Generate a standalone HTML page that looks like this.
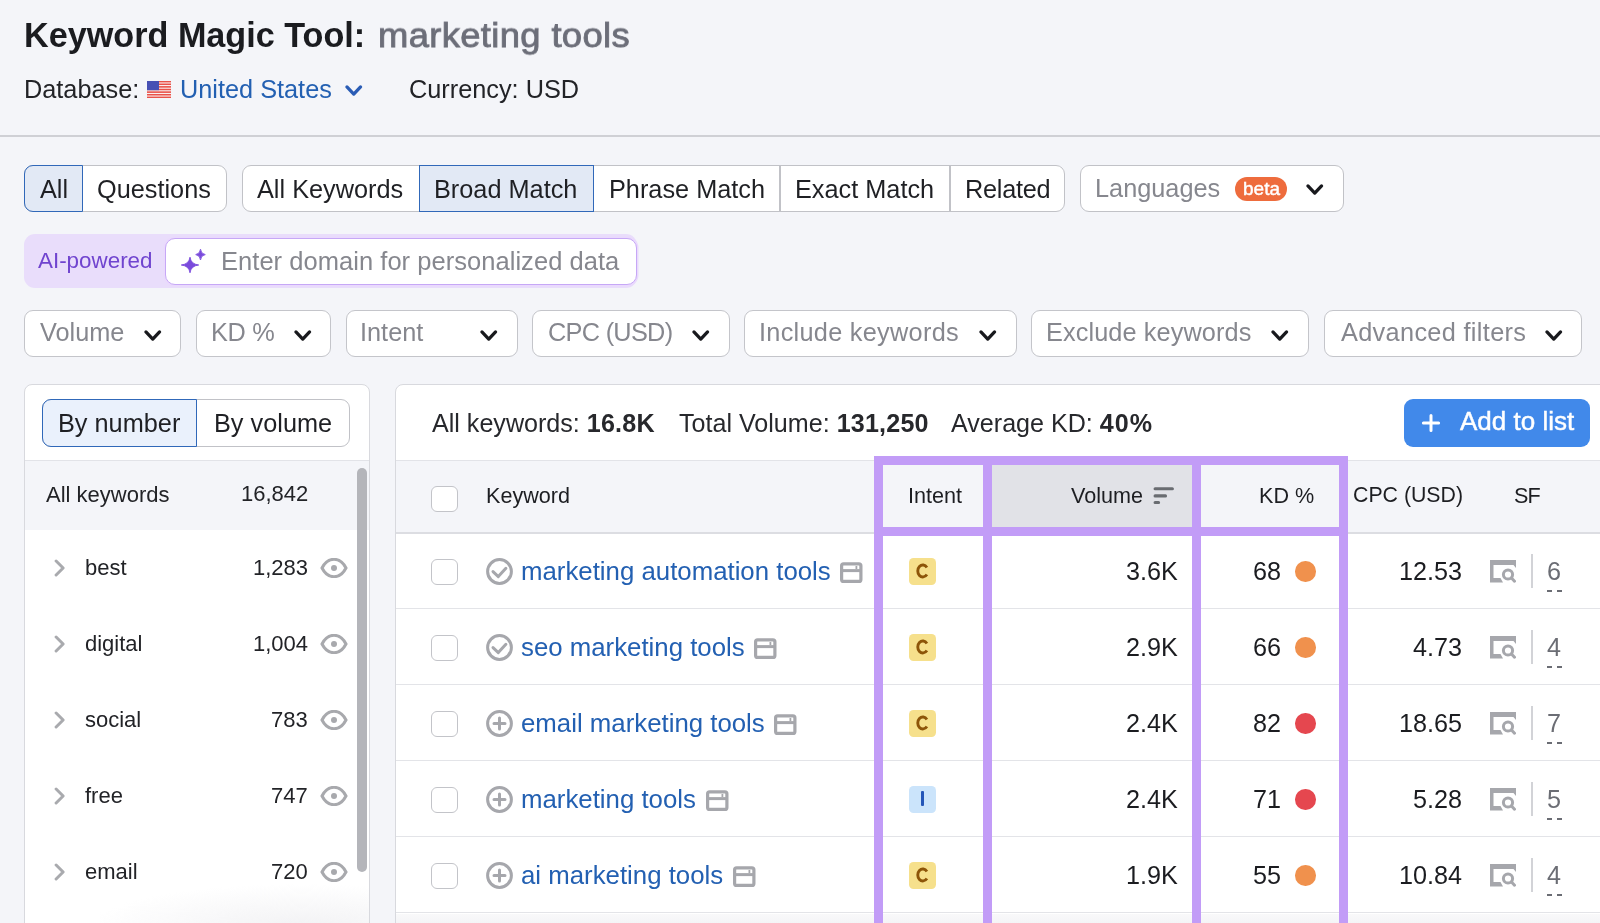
<!DOCTYPE html>
<html><head><meta charset="utf-8">
<style>
*{box-sizing:border-box;margin:0;padding:0}
html,body{width:1600px;height:923px;overflow:hidden}
body{background:#f4f5f9;font-family:"Liberation Sans",sans-serif;color:#222327;position:relative}
.a{position:absolute}
.t{position:absolute;white-space:nowrap;line-height:1;will-change:transform}
</style></head><body>
<div class="t" style="left:23.8px;top:18.00px;font-size:34.2px;color:#1b1c20;font-weight:700;transform:scaleY(1.045);transform-origin:0 28.90px">Keyword Magic Tool:</div>
<div class="t" style="left:378.2px;top:16.74px;font-size:36.4px;color:#6c6e79;-webkit-text-stroke:0.9px #6c6e79;letter-spacing:0.35px;transform:scaleY(0.925);transform-origin:0 30.76px">marketing tools</div>
<div class="t" style="left:24.2px;top:76.62px;font-size:25.3px;color:#222327;">Database:</div>
<svg class="a" style="left:147px;top:81px" width="24" height="17" viewBox="0 0 24 17">
 <rect width="24" height="17" rx="1" fill="#fbfbfc"/>
 <g fill="#e9524a"><rect y="-0.15" width="24" height="1.61"/><rect y="2.47" width="24" height="1.61"/><rect y="5.08" width="24" height="1.61"/><rect y="7.70" width="24" height="1.61"/><rect y="10.31" width="24" height="1.61"/><rect y="12.93" width="24" height="1.61"/><rect y="15.54" width="24" height="1.61"/></g>
 <rect width="12" height="9.2" fill="#4750b4"/></svg>
<div class="t" style="left:179.6px;top:76.62px;font-size:25.3px;color:#2360b2;">United States</div>
<svg class="a" style="left:345.2px;top:84.6px;overflow:visible" width="17.5" height="11" viewBox="0 0 17.5 11"><path d="M1.95 1.95L8.75 9.049999999999999L15.549999999999999 1.95" fill="none" stroke="#2a5cb5" stroke-width="3.3" stroke-linecap="round" stroke-linejoin="round"/></svg>
<div class="t" style="left:408.8px;top:76.62px;font-size:25.3px;color:#222327;">Currency: USD</div>
<div class="a" style="left:0px;top:135px;width:1600px;height:2px;background:#cfd0d5"></div>
<div class="a" style="left:24px;top:165px;width:202.5px;height:47px;background:#fff;border:1.6px solid #c1c2c7;border-radius:9px"></div>
<div class="a" style="left:24px;top:165px;width:59px;height:47px;background:#e2e9f5;border:1.7px solid #3068b9;border-radius:9px 0 0 9px"></div>
<div class="a" style="left:242px;top:165px;width:823px;height:47px;background:#fff;border:1.6px solid #c1c2c7;border-radius:9px"></div>
<div class="a" style="left:418.5px;top:165px;width:175.5px;height:47px;background:#e2e9f5;border:1.7px solid #3068b9;border-radius:0"></div>
<div class="a" style="left:779.25px;top:166px;width:1.5px;height:45px;background:#c1c2c7"></div>
<div class="a" style="left:949.25px;top:166px;width:1.5px;height:45px;background:#c1c2c7"></div>
<div class="t" style="left:40.3px;top:176.62px;font-size:25.3px;color:#1f2024;">All</div>
<div class="t" style="left:97.4px;top:176.62px;font-size:25.3px;color:#1f2024;">Questions</div>
<div class="t" style="left:257.4px;top:176.62px;font-size:25.3px;color:#1f2024;">All Keywords</div>
<div class="t" style="left:434.4px;top:176.62px;font-size:25.3px;color:#1f2024;">Broad Match</div>
<div class="t" style="left:608.7px;top:176.62px;font-size:25.3px;color:#1f2024;">Phrase Match</div>
<div class="t" style="left:794.9px;top:176.62px;font-size:25.3px;color:#1f2024;">Exact Match</div>
<div class="t" style="left:965.0px;top:176.62px;font-size:25.3px;color:#1f2024;letter-spacing:-0.25px">Related</div>
<div class="a" style="left:1080px;top:165px;width:264px;height:47px;background:#fff;border:1.6px solid #c1c2c7;border-radius:9px"></div>
<div class="t" style="left:1095.4px;top:176.32px;font-size:25.3px;color:#86878e;">Languages</div>
<div class="a" style="left:1235px;top:177px;width:52px;height:23.5px;background:#ee6c3d;border-radius:12px"></div>
<div class="t" style="left:1242.6px;top:178.94px;font-size:19px;color:#fff;-webkit-text-stroke:0.45px #fff">beta</div>
<svg class="a" style="left:1306.2px;top:183.8px;overflow:visible" width="17.5" height="11" viewBox="0 0 17.5 11"><path d="M1.95 1.95L8.75 9.049999999999999L15.549999999999999 1.95" fill="none" stroke="#18191d" stroke-width="3.3" stroke-linecap="round" stroke-linejoin="round"/></svg>
<div class="a" style="left:24px;top:234px;width:613px;height:54px;background:#e9ddfb;border-radius:11px"></div>
<div class="t" style="left:38.4px;top:250.37px;font-size:22.4px;color:#7044cf;">AI-powered</div>
<div class="a" style="left:165px;top:237.5px;width:471.5px;height:47px;background:#fff;border:1.5px solid #c6a8f6;border-radius:10px;box-shadow:0 0 0 1.5px #ead9fd"></div>
<svg class="a" style="left:181px;top:248px" width="26" height="26" viewBox="0 0 26 26">
 <path d="M9 9.2 Q9.9 16.1 17.7 17 Q9.9 17.9 9 24.8 Q8.1 17.9 0.3 17 Q8.1 16.1 9 9.2Z" fill="#7a4bdc" stroke="#7a4bdc" stroke-width="0.9" stroke-linejoin="round"/>
 <path d="M19.5 1.2 Q20 5.8 24.3 6.6 Q20 7.4 19.5 12 Q19 7.4 14.7 6.6 Q19 5.8 19.5 1.2Z" fill="#7a4bdc" stroke="#7a4bdc" stroke-width="0.8" stroke-linejoin="round"/></svg>
<div class="t" style="left:221.4px;top:248.85px;font-size:25.5px;color:#86878e;letter-spacing:0.04px">Enter domain for personalized data</div>
<div class="a" style="left:24px;top:310px;width:157px;height:46.8px;background:#fff;border:1.6px solid #c4c5ca;border-radius:9px"></div>
<div class="t" style="left:40.2px;top:320.02px;font-size:25.3px;color:#86878e;letter-spacing:0px">Volume</div>
<svg class="a" style="left:143.6px;top:329.5px;overflow:visible" width="17.5" height="11" viewBox="0 0 17.5 11"><path d="M1.95 1.95L8.75 9.049999999999999L15.549999999999999 1.95" fill="none" stroke="#18191d" stroke-width="3.3" stroke-linecap="round" stroke-linejoin="round"/></svg>
<div class="a" style="left:196px;top:310px;width:135px;height:46.8px;background:#fff;border:1.6px solid #c4c5ca;border-radius:9px"></div>
<div class="t" style="left:210.6px;top:320.02px;font-size:25.3px;color:#86878e;letter-spacing:-0.3px">KD %</div>
<svg class="a" style="left:293.8px;top:329.5px;overflow:visible" width="17.5" height="11" viewBox="0 0 17.5 11"><path d="M1.95 1.95L8.75 9.049999999999999L15.549999999999999 1.95" fill="none" stroke="#18191d" stroke-width="3.3" stroke-linecap="round" stroke-linejoin="round"/></svg>
<div class="a" style="left:346px;top:310px;width:172px;height:46.8px;background:#fff;border:1.6px solid #c4c5ca;border-radius:9px"></div>
<div class="t" style="left:360.3px;top:320.02px;font-size:25.3px;color:#86878e;letter-spacing:0px">Intent</div>
<svg class="a" style="left:480.3px;top:329.5px;overflow:visible" width="17.5" height="11" viewBox="0 0 17.5 11"><path d="M1.95 1.95L8.75 9.049999999999999L15.549999999999999 1.95" fill="none" stroke="#18191d" stroke-width="3.3" stroke-linecap="round" stroke-linejoin="round"/></svg>
<div class="a" style="left:532px;top:310px;width:198px;height:46.8px;background:#fff;border:1.6px solid #c4c5ca;border-radius:9px"></div>
<div class="t" style="left:547.5px;top:320.02px;font-size:25.3px;color:#86878e;letter-spacing:-0.7px">CPC (USD)</div>
<svg class="a" style="left:692.4px;top:329.5px;overflow:visible" width="17.5" height="11" viewBox="0 0 17.5 11"><path d="M1.95 1.95L8.75 9.049999999999999L15.549999999999999 1.95" fill="none" stroke="#18191d" stroke-width="3.3" stroke-linecap="round" stroke-linejoin="round"/></svg>
<div class="a" style="left:744px;top:310px;width:273px;height:46.8px;background:#fff;border:1.6px solid #c4c5ca;border-radius:9px"></div>
<div class="t" style="left:759.3px;top:320.02px;font-size:25.3px;color:#86878e;letter-spacing:0.28px">Include keywords</div>
<svg class="a" style="left:979.3px;top:329.5px;overflow:visible" width="17.5" height="11" viewBox="0 0 17.5 11"><path d="M1.95 1.95L8.75 9.049999999999999L15.549999999999999 1.95" fill="none" stroke="#18191d" stroke-width="3.3" stroke-linecap="round" stroke-linejoin="round"/></svg>
<div class="a" style="left:1031px;top:310px;width:278px;height:46.8px;background:#fff;border:1.6px solid #c4c5ca;border-radius:9px"></div>
<div class="t" style="left:1046.1px;top:320.02px;font-size:25.3px;color:#86878e;letter-spacing:0.1px">Exclude keywords</div>
<svg class="a" style="left:1271.4px;top:329.5px;overflow:visible" width="17.5" height="11" viewBox="0 0 17.5 11"><path d="M1.95 1.95L8.75 9.049999999999999L15.549999999999999 1.95" fill="none" stroke="#18191d" stroke-width="3.3" stroke-linecap="round" stroke-linejoin="round"/></svg>
<div class="a" style="left:1324px;top:310px;width:258px;height:46.8px;background:#fff;border:1.6px solid #c4c5ca;border-radius:9px"></div>
<div class="t" style="left:1340.6px;top:320.02px;font-size:25.3px;color:#86878e;letter-spacing:0.33px">Advanced filters</div>
<svg class="a" style="left:1544.7px;top:329.5px;overflow:visible" width="17.5" height="11" viewBox="0 0 17.5 11"><path d="M1.95 1.95L8.75 9.049999999999999L15.549999999999999 1.95" fill="none" stroke="#18191d" stroke-width="3.3" stroke-linecap="round" stroke-linejoin="round"/></svg>
<div class="a" style="left:23.6px;top:384px;width:346.4px;height:600px;background:#fff;border:1px solid #d8d9de;border-radius:8px"></div>
<div class="a" style="left:42px;top:399px;width:308px;height:47.80000000000001px;background:#fff;border:1.6px solid #c1c2c7;border-radius:9px"></div>
<div class="a" style="left:42px;top:399px;width:155px;height:47.80000000000001px;background:#eaf1fc;border:1.7px solid #3068b9;border-radius:9px 0 0 9px"></div>
<div class="t" style="left:57.6px;top:410.62px;font-size:25.3px;color:#1f2024;">By number</div>
<div class="t" style="left:213.6px;top:410.62px;font-size:25.3px;color:#1f2024;">By volume</div>
<div class="a" style="left:25px;top:460px;width:344px;height:1.2px;background:#e2e3e8"></div>
<div class="a" style="left:25px;top:461px;width:344px;height:69px;background:#f4f5f9"></div>
<div class="t" style="left:46.2px;top:484.01px;font-size:22.0px;color:#222327;">All keywords</div>
<div class="t" style="right:1292.0px;top:483.41px;font-size:22.0px;color:#222327;text-align:right;">16,842</div>
<div class="a" style="left:357px;top:468px;width:10px;height:404px;background:#b4b5ba;border-radius:5px"></div>
<svg class="a" style="left:53px;top:558.6px" width="13" height="18" viewBox="0 0 13 18"><path d="M3.1 2.0l7 7-7 7" fill="none" stroke="#a9aaae" stroke-width="3" stroke-linecap="round" stroke-linejoin="round"/></svg>
<div class="t" style="left:84.8px;top:556.81px;font-size:22.0px;color:#222327;">best</div>
<div class="t" style="right:1292.0px;top:556.81px;font-size:22.0px;color:#222327;text-align:right;">1,283</div>
<svg class="a" style="left:320px;top:557.6px" width="28" height="20" viewBox="0 0 28 20"><path d="M2 10C5 4.1 9 1.3 14 1.3s9 2.8 12 8.7c-3 5.9-7 8.7-12 8.7S5 15.9 2 10Z" fill="none" stroke="#a8a9ad" stroke-width="3"/><circle cx="14" cy="10" r="3" fill="#a8a9ad"/></svg>
<svg class="a" style="left:53px;top:634.6px" width="13" height="18" viewBox="0 0 13 18"><path d="M3.1 2.0l7 7-7 7" fill="none" stroke="#a9aaae" stroke-width="3" stroke-linecap="round" stroke-linejoin="round"/></svg>
<div class="t" style="left:84.8px;top:632.81px;font-size:22.0px;color:#222327;">digital</div>
<div class="t" style="right:1292.0px;top:632.81px;font-size:22.0px;color:#222327;text-align:right;">1,004</div>
<svg class="a" style="left:320px;top:633.6px" width="28" height="20" viewBox="0 0 28 20"><path d="M2 10C5 4.1 9 1.3 14 1.3s9 2.8 12 8.7c-3 5.9-7 8.7-12 8.7S5 15.9 2 10Z" fill="none" stroke="#a8a9ad" stroke-width="3"/><circle cx="14" cy="10" r="3" fill="#a8a9ad"/></svg>
<svg class="a" style="left:53px;top:710.6px" width="13" height="18" viewBox="0 0 13 18"><path d="M3.1 2.0l7 7-7 7" fill="none" stroke="#a9aaae" stroke-width="3" stroke-linecap="round" stroke-linejoin="round"/></svg>
<div class="t" style="left:84.8px;top:708.81px;font-size:22.0px;color:#222327;">social</div>
<div class="t" style="right:1292.0px;top:708.81px;font-size:22.0px;color:#222327;text-align:right;">783</div>
<svg class="a" style="left:320px;top:709.6px" width="28" height="20" viewBox="0 0 28 20"><path d="M2 10C5 4.1 9 1.3 14 1.3s9 2.8 12 8.7c-3 5.9-7 8.7-12 8.7S5 15.9 2 10Z" fill="none" stroke="#a8a9ad" stroke-width="3"/><circle cx="14" cy="10" r="3" fill="#a8a9ad"/></svg>
<svg class="a" style="left:53px;top:786.6px" width="13" height="18" viewBox="0 0 13 18"><path d="M3.1 2.0l7 7-7 7" fill="none" stroke="#a9aaae" stroke-width="3" stroke-linecap="round" stroke-linejoin="round"/></svg>
<div class="t" style="left:84.8px;top:784.81px;font-size:22.0px;color:#222327;">free</div>
<div class="t" style="right:1292.0px;top:784.81px;font-size:22.0px;color:#222327;text-align:right;">747</div>
<svg class="a" style="left:320px;top:785.6px" width="28" height="20" viewBox="0 0 28 20"><path d="M2 10C5 4.1 9 1.3 14 1.3s9 2.8 12 8.7c-3 5.9-7 8.7-12 8.7S5 15.9 2 10Z" fill="none" stroke="#a8a9ad" stroke-width="3"/><circle cx="14" cy="10" r="3" fill="#a8a9ad"/></svg>
<svg class="a" style="left:53px;top:862.6px" width="13" height="18" viewBox="0 0 13 18"><path d="M3.1 2.0l7 7-7 7" fill="none" stroke="#a9aaae" stroke-width="3" stroke-linecap="round" stroke-linejoin="round"/></svg>
<div class="t" style="left:84.8px;top:860.81px;font-size:22.0px;color:#222327;">email</div>
<div class="t" style="right:1292.0px;top:860.81px;font-size:22.0px;color:#222327;text-align:right;">720</div>
<svg class="a" style="left:320px;top:861.6px" width="28" height="20" viewBox="0 0 28 20"><path d="M2 10C5 4.1 9 1.3 14 1.3s9 2.8 12 8.7c-3 5.9-7 8.7-12 8.7S5 15.9 2 10Z" fill="none" stroke="#a8a9ad" stroke-width="3"/><circle cx="14" cy="10" r="3" fill="#a8a9ad"/></svg>
<div class="a" style="left:395px;top:384px;width:1240px;height:600px;background:#fff;border:1px solid #d8d9de;border-radius:8px"></div>
<div class="t" style="left:432.3px;top:411.19px;font-size:25.1px;color:#27282c;">All keywords: <b style="letter-spacing:0.2px">16.8K</b></div>
<div class="t" style="left:678.5px;top:411.19px;font-size:25.1px;color:#27282c;">Total Volume: <b style="letter-spacing:0.2px">131,250</b></div>
<div class="t" style="left:950.8px;top:411.19px;font-size:25.1px;color:#27282c;">Average KD: <b style="letter-spacing:1px">40%</b></div>
<div class="a" style="left:1404px;top:399px;width:186px;height:48px;background:#4189ea;border-radius:9px"></div>
<svg class="a" style="left:1421.3px;top:413px" width="20" height="20" viewBox="0 0 20 20"><path d="M10 2.4v15.2M2.4 10h15.2" stroke="#fff" stroke-width="3" stroke-linecap="round"/></svg>
<div class="t" style="left:1459.6px;top:408.43px;font-size:26px;color:#fff;-webkit-text-stroke:0.45px #fff">Add to list</div>
<div class="a" style="left:396px;top:460px;width:1204px;height:1.2px;background:#e2e3e8"></div>
<div class="a" style="left:396px;top:461px;width:1204px;height:71px;background:#f4f5f9"></div>
<div class="a" style="left:992px;top:461px;width:200px;height:71px;background:#e1e2e7"></div>
<div class="a" style="left:396px;top:532.4px;width:1204px;height:1.4px;background:#dcdde2"></div>
<div class="a" style="left:431.4px;top:485.7px;width:26.6px;height:26.6px;border:1.6px solid #c3c4c9;border-radius:6px;background:#fff"></div>
<div class="t" style="left:486.2px;top:485.15px;font-size:21.6px;color:#1d1e22;">Keyword</div>
<div class="t" style="left:908.4px;top:485.15px;font-size:21.6px;color:#1d1e22;">Intent</div>
<div class="t" style="left:1071.4px;top:485.15px;font-size:21.6px;color:#1d1e22;">Volume</div>
<svg class="a" style="left:1152px;top:486px" width="23" height="19" viewBox="0 0 23 19"><path d="M3.1 2.7h17.3M3.1 9.9h10.4M3.1 16.5h3.5" stroke="#696c71" stroke-width="3.1" stroke-linecap="round"/></svg>
<div class="t" style="right:286.0px;top:485.15px;font-size:21.6px;color:#1d1e22;text-align:right;">KD %</div>
<div class="t" style="left:1353.4px;top:485.40px;font-size:21.3px;color:#1d1e22;">CPC (USD)</div>
<div class="t" style="left:1513.6px;top:485.15px;font-size:21.6px;color:#1d1e22;letter-spacing:-0.9px">SF</div>
<div class="a" style="left:396px;top:608px;width:1204px;height:1.4px;background:#e3e4e8"></div>
<div class="a" style="left:431.4px;top:558.5px;width:26.6px;height:26.6px;border:1.6px solid #c3c4c9;border-radius:6px;background:#fff"></div>
<svg class="a" style="left:486px;top:558.0px" width="27" height="27" viewBox="0 0 27 27"><circle cx="13.5" cy="13.5" r="11.9" fill="none" stroke="#a6a7ac" stroke-width="3"/><path d="M7 13.6l5.3 5 7.6-8.3" fill="none" stroke="#a6a7ac" stroke-width="3" stroke-linecap="round" stroke-linejoin="round"/></svg>
<div class="t" style="left:520.6px;top:558.50px;font-size:25.8px;color:#2360b2;">marketing automation tools<svg style="margin-left:9.6px;vertical-align:-3px" width="23" height="21" viewBox="0 0 23 21"><rect x="1.6" y="1.8" width="19.3" height="17.6" rx="2" fill="none" stroke="#a6a7ac" stroke-width="3.2"/><path d="M2 8.6h18.5" stroke="#a6a7ac" stroke-width="3"/><path d="M16.4 4v3" stroke="#a6a7ac" stroke-width="1.8"/></svg></div>
<div class="a" style="left:909px;top:558.0px;width:27px;height:27px;border-radius:4.5px;background:#f6e08c;"><svg class="a" style="left:0;top:0" width="27" height="27" viewBox="0 0 27 27"><path d="M17.9 9.4A5.05 6 0 1 0 17.9 16.5" fill="none" stroke="#8d5508" stroke-width="2.9" stroke-linecap="butt"/></svg></div>
<div class="t" style="right:422.4px;top:559.01px;font-size:25.2px;color:#1b1c20;text-align:right;">3.6K</div>
<div class="t" style="right:319.4px;top:559.01px;font-size:25.2px;color:#1b1c20;text-align:right;">68</div>
<div class="a" style="left:1295px;top:561.3px;width:20.6px;height:20.6px;border-radius:50%;background:#f0914d"></div>
<div class="t" style="right:137.6px;top:559.01px;font-size:25.2px;color:#1b1c20;text-align:right;">12.53</div>
<svg class="a" style="left:1490px;top:559.9px" width="26" height="23" viewBox="0 0 26 23"><path d="M0 0h26v8l-2.5 -3h-20v13h7l2.5 4.5h-13z" fill="#a6a7ac"/><circle cx="18" cy="14.5" r="4.6" fill="none" stroke="#a6a7ac" stroke-width="3"/><path d="M21.5 18l3 3.2" stroke="#a6a7ac" stroke-width="3" stroke-linecap="round"/></svg>
<div class="a" style="left:1531.2px;top:554.2px;width:1.6px;height:34px;background:#d2d3d7"></div>
<div class="t" style="left:1547.0px;top:559.01px;font-size:25.2px;color:#6b6d74;">6</div>
<div class="a" style="left:1547.4px;top:590.1px;width:5px;height:1.7px;background:#6b6d74"></div>
<div class="a" style="left:1557.2px;top:590.1px;width:5px;height:1.7px;background:#6b6d74"></div>
<div class="a" style="left:396px;top:684px;width:1204px;height:1.4px;background:#e3e4e8"></div>
<div class="a" style="left:431.4px;top:634.5px;width:26.6px;height:26.6px;border:1.6px solid #c3c4c9;border-radius:6px;background:#fff"></div>
<svg class="a" style="left:486px;top:634.0px" width="27" height="27" viewBox="0 0 27 27"><circle cx="13.5" cy="13.5" r="11.9" fill="none" stroke="#a6a7ac" stroke-width="3"/><path d="M7 13.6l5.3 5 7.6-8.3" fill="none" stroke="#a6a7ac" stroke-width="3" stroke-linecap="round" stroke-linejoin="round"/></svg>
<div class="t" style="left:520.6px;top:634.50px;font-size:25.8px;color:#2360b2;">seo marketing tools<svg style="margin-left:9.6px;vertical-align:-3px" width="23" height="21" viewBox="0 0 23 21"><rect x="1.6" y="1.8" width="19.3" height="17.6" rx="2" fill="none" stroke="#a6a7ac" stroke-width="3.2"/><path d="M2 8.6h18.5" stroke="#a6a7ac" stroke-width="3"/><path d="M16.4 4v3" stroke="#a6a7ac" stroke-width="1.8"/></svg></div>
<div class="a" style="left:909px;top:634.0px;width:27px;height:27px;border-radius:4.5px;background:#f6e08c;"><svg class="a" style="left:0;top:0" width="27" height="27" viewBox="0 0 27 27"><path d="M17.9 9.4A5.05 6 0 1 0 17.9 16.5" fill="none" stroke="#8d5508" stroke-width="2.9" stroke-linecap="butt"/></svg></div>
<div class="t" style="right:422.4px;top:635.01px;font-size:25.2px;color:#1b1c20;text-align:right;">2.9K</div>
<div class="t" style="right:319.4px;top:635.01px;font-size:25.2px;color:#1b1c20;text-align:right;">66</div>
<div class="a" style="left:1295px;top:637.3px;width:20.6px;height:20.6px;border-radius:50%;background:#f0914d"></div>
<div class="t" style="right:137.6px;top:635.01px;font-size:25.2px;color:#1b1c20;text-align:right;">4.73</div>
<svg class="a" style="left:1490px;top:635.9px" width="26" height="23" viewBox="0 0 26 23"><path d="M0 0h26v8l-2.5 -3h-20v13h7l2.5 4.5h-13z" fill="#a6a7ac"/><circle cx="18" cy="14.5" r="4.6" fill="none" stroke="#a6a7ac" stroke-width="3"/><path d="M21.5 18l3 3.2" stroke="#a6a7ac" stroke-width="3" stroke-linecap="round"/></svg>
<div class="a" style="left:1531.2px;top:630.2px;width:1.6px;height:34px;background:#d2d3d7"></div>
<div class="t" style="left:1547.0px;top:635.01px;font-size:25.2px;color:#6b6d74;">4</div>
<div class="a" style="left:1547.4px;top:666.1px;width:5px;height:1.7px;background:#6b6d74"></div>
<div class="a" style="left:1557.2px;top:666.1px;width:5px;height:1.7px;background:#6b6d74"></div>
<div class="a" style="left:396px;top:760px;width:1204px;height:1.4px;background:#e3e4e8"></div>
<div class="a" style="left:431.4px;top:710.5px;width:26.6px;height:26.6px;border:1.6px solid #c3c4c9;border-radius:6px;background:#fff"></div>
<svg class="a" style="left:486px;top:710.0px" width="27" height="27" viewBox="0 0 27 27"><circle cx="13.5" cy="13.5" r="11.9" fill="none" stroke="#a6a7ac" stroke-width="3"/><path d="M13.5 8v11M8 13.5h11" stroke="#a6a7ac" stroke-width="3" stroke-linecap="round"/></svg>
<div class="t" style="left:520.6px;top:710.50px;font-size:25.8px;color:#2360b2;">email marketing tools<svg style="margin-left:9.6px;vertical-align:-3px" width="23" height="21" viewBox="0 0 23 21"><rect x="1.6" y="1.8" width="19.3" height="17.6" rx="2" fill="none" stroke="#a6a7ac" stroke-width="3.2"/><path d="M2 8.6h18.5" stroke="#a6a7ac" stroke-width="3"/><path d="M16.4 4v3" stroke="#a6a7ac" stroke-width="1.8"/></svg></div>
<div class="a" style="left:909px;top:710.0px;width:27px;height:27px;border-radius:4.5px;background:#f6e08c;"><svg class="a" style="left:0;top:0" width="27" height="27" viewBox="0 0 27 27"><path d="M17.9 9.4A5.05 6 0 1 0 17.9 16.5" fill="none" stroke="#8d5508" stroke-width="2.9" stroke-linecap="butt"/></svg></div>
<div class="t" style="right:422.4px;top:711.01px;font-size:25.2px;color:#1b1c20;text-align:right;">2.4K</div>
<div class="t" style="right:319.4px;top:711.01px;font-size:25.2px;color:#1b1c20;text-align:right;">82</div>
<div class="a" style="left:1295px;top:713.3px;width:20.6px;height:20.6px;border-radius:50%;background:#e5474f"></div>
<div class="t" style="right:137.6px;top:711.01px;font-size:25.2px;color:#1b1c20;text-align:right;">18.65</div>
<svg class="a" style="left:1490px;top:711.9px" width="26" height="23" viewBox="0 0 26 23"><path d="M0 0h26v8l-2.5 -3h-20v13h7l2.5 4.5h-13z" fill="#a6a7ac"/><circle cx="18" cy="14.5" r="4.6" fill="none" stroke="#a6a7ac" stroke-width="3"/><path d="M21.5 18l3 3.2" stroke="#a6a7ac" stroke-width="3" stroke-linecap="round"/></svg>
<div class="a" style="left:1531.2px;top:706.2px;width:1.6px;height:34px;background:#d2d3d7"></div>
<div class="t" style="left:1547.0px;top:711.01px;font-size:25.2px;color:#6b6d74;">7</div>
<div class="a" style="left:1547.4px;top:742.1px;width:5px;height:1.7px;background:#6b6d74"></div>
<div class="a" style="left:1557.2px;top:742.1px;width:5px;height:1.7px;background:#6b6d74"></div>
<div class="a" style="left:396px;top:836px;width:1204px;height:1.4px;background:#e3e4e8"></div>
<div class="a" style="left:431.4px;top:786.5px;width:26.6px;height:26.6px;border:1.6px solid #c3c4c9;border-radius:6px;background:#fff"></div>
<svg class="a" style="left:486px;top:786.0px" width="27" height="27" viewBox="0 0 27 27"><circle cx="13.5" cy="13.5" r="11.9" fill="none" stroke="#a6a7ac" stroke-width="3"/><path d="M13.5 8v11M8 13.5h11" stroke="#a6a7ac" stroke-width="3" stroke-linecap="round"/></svg>
<div class="t" style="left:520.6px;top:786.50px;font-size:25.8px;color:#2360b2;">marketing tools<svg style="margin-left:9.6px;vertical-align:-3px" width="23" height="21" viewBox="0 0 23 21"><rect x="1.6" y="1.8" width="19.3" height="17.6" rx="2" fill="none" stroke="#a6a7ac" stroke-width="3.2"/><path d="M2 8.6h18.5" stroke="#a6a7ac" stroke-width="3"/><path d="M16.4 4v3" stroke="#a6a7ac" stroke-width="1.8"/></svg></div>
<div class="a" style="left:909px;top:786.0px;width:27px;height:27px;border-radius:4.5px;background:#cbe4fb;"><div class="a" style="left:12.2px;top:5px;width:2.8px;height:15px;border-radius:1px;background:#2456b8"></div></div>
<div class="t" style="right:422.4px;top:787.01px;font-size:25.2px;color:#1b1c20;text-align:right;">2.4K</div>
<div class="t" style="right:319.4px;top:787.01px;font-size:25.2px;color:#1b1c20;text-align:right;">71</div>
<div class="a" style="left:1295px;top:789.3px;width:20.6px;height:20.6px;border-radius:50%;background:#e5474f"></div>
<div class="t" style="right:137.6px;top:787.01px;font-size:25.2px;color:#1b1c20;text-align:right;">5.28</div>
<svg class="a" style="left:1490px;top:787.9px" width="26" height="23" viewBox="0 0 26 23"><path d="M0 0h26v8l-2.5 -3h-20v13h7l2.5 4.5h-13z" fill="#a6a7ac"/><circle cx="18" cy="14.5" r="4.6" fill="none" stroke="#a6a7ac" stroke-width="3"/><path d="M21.5 18l3 3.2" stroke="#a6a7ac" stroke-width="3" stroke-linecap="round"/></svg>
<div class="a" style="left:1531.2px;top:782.2px;width:1.6px;height:34px;background:#d2d3d7"></div>
<div class="t" style="left:1547.0px;top:787.01px;font-size:25.2px;color:#6b6d74;">5</div>
<div class="a" style="left:1547.4px;top:818.1px;width:5px;height:1.7px;background:#6b6d74"></div>
<div class="a" style="left:1557.2px;top:818.1px;width:5px;height:1.7px;background:#6b6d74"></div>
<div class="a" style="left:396px;top:912px;width:1204px;height:1.4px;background:#e3e4e8"></div>
<div class="a" style="left:431.4px;top:862.5px;width:26.6px;height:26.6px;border:1.6px solid #c3c4c9;border-radius:6px;background:#fff"></div>
<svg class="a" style="left:486px;top:862.0px" width="27" height="27" viewBox="0 0 27 27"><circle cx="13.5" cy="13.5" r="11.9" fill="none" stroke="#a6a7ac" stroke-width="3"/><path d="M13.5 8v11M8 13.5h11" stroke="#a6a7ac" stroke-width="3" stroke-linecap="round"/></svg>
<div class="t" style="left:520.6px;top:862.50px;font-size:25.8px;color:#2360b2;">ai marketing tools<svg style="margin-left:9.6px;vertical-align:-3px" width="23" height="21" viewBox="0 0 23 21"><rect x="1.6" y="1.8" width="19.3" height="17.6" rx="2" fill="none" stroke="#a6a7ac" stroke-width="3.2"/><path d="M2 8.6h18.5" stroke="#a6a7ac" stroke-width="3"/><path d="M16.4 4v3" stroke="#a6a7ac" stroke-width="1.8"/></svg></div>
<div class="a" style="left:909px;top:862.0px;width:27px;height:27px;border-radius:4.5px;background:#f6e08c;"><svg class="a" style="left:0;top:0" width="27" height="27" viewBox="0 0 27 27"><path d="M17.9 9.4A5.05 6 0 1 0 17.9 16.5" fill="none" stroke="#8d5508" stroke-width="2.9" stroke-linecap="butt"/></svg></div>
<div class="t" style="right:422.4px;top:863.01px;font-size:25.2px;color:#1b1c20;text-align:right;">1.9K</div>
<div class="t" style="right:319.4px;top:863.01px;font-size:25.2px;color:#1b1c20;text-align:right;">55</div>
<div class="a" style="left:1295px;top:865.3px;width:20.6px;height:20.6px;border-radius:50%;background:#f0914d"></div>
<div class="t" style="right:137.6px;top:863.01px;font-size:25.2px;color:#1b1c20;text-align:right;">10.84</div>
<svg class="a" style="left:1490px;top:863.9px" width="26" height="23" viewBox="0 0 26 23"><path d="M0 0h26v8l-2.5 -3h-20v13h7l2.5 4.5h-13z" fill="#a6a7ac"/><circle cx="18" cy="14.5" r="4.6" fill="none" stroke="#a6a7ac" stroke-width="3"/><path d="M21.5 18l3 3.2" stroke="#a6a7ac" stroke-width="3" stroke-linecap="round"/></svg>
<div class="a" style="left:1531.2px;top:858.2px;width:1.6px;height:34px;background:#d2d3d7"></div>
<div class="t" style="left:1547.0px;top:863.01px;font-size:25.2px;color:#6b6d74;">4</div>
<div class="a" style="left:1547.4px;top:894.1px;width:5px;height:1.7px;background:#6b6d74"></div>
<div class="a" style="left:1557.2px;top:894.1px;width:5px;height:1.7px;background:#6b6d74"></div>
<div class="a" style="left:396px;top:913.5px;width:1204px;height:10px;background:linear-gradient(#f9f9fa,#f4f4f6)"></div>
<div class="a" style="left:873.5px;top:456px;width:9.4px;height:480px;background:#c29cf7"></div>
<div class="a" style="left:983.1px;top:456px;width:9px;height:480px;background:#c29cf7"></div>
<div class="a" style="left:1192.3px;top:456px;width:8.9px;height:480px;background:#c29cf7"></div>
<div class="a" style="left:1339px;top:456px;width:8.6px;height:480px;background:#c29cf7"></div>
<div class="a" style="left:873.5px;top:456px;width:474px;height:8.8px;background:#c29cf7"></div>
<div class="a" style="left:873.5px;top:527.2px;width:474px;height:8.9px;background:#c29cf7"></div>
<div class="a" style="left:100px;top:880px;width:269px;height:43px;background:radial-gradient(ellipse 80% 100% at 75% 110%,#f2f2f4 0%,rgba(255,255,255,0) 100%)"></div>
</body></html>
